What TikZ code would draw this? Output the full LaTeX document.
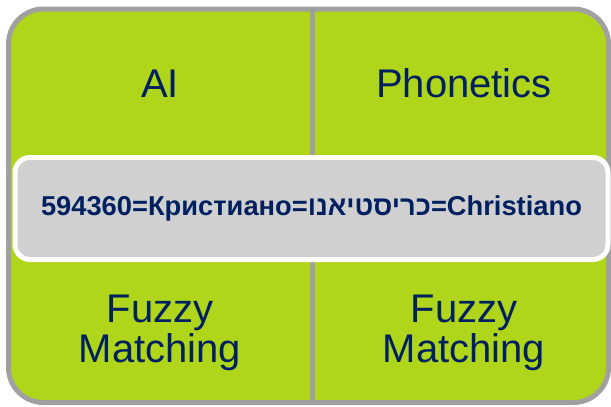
\documentclass[tikz,border=0pt]{standalone}
\usepackage{fontspec}
\setmainfont{Liberation Sans}
\newfontfamily\hebfont[Script=Hebrew]{Liberation Sans}
\TeXXeTstate=1
\definecolor{leaf}{RGB}{175,214,26}
\definecolor{rim}{RGB}{160,160,160}
\definecolor{slab}{RGB}{208,208,208}
\definecolor{ink}{RGB}{0,32,96}
\begin{document}
\begin{tikzpicture}[x=1pt,y=-1pt,
                panel/.style = {fill=leaf, draw=rim, line width=5pt, rounded corners=35pt},
                divider/.style = {draw=rim, line width=5pt},
                quad/.style = {text=ink, font=\fontsize{40}{40}\selectfont, align=center, inner sep=0pt},
                keybox/.style = {fill=slab, draw=white, line width=5pt, rounded corners=15pt,
                                 minimum width=593pt, minimum height=102pt, inner sep=0pt,
                                 text=ink, font=\fontsize{27.3}{30}\selectfont\bfseries}
                ]
                \useasboundingbox (0,0) rectangle (611,407);
                \draw[panel] (8.5,9) rectangle (608.5,402.5);
                \coordinate (top) at (312.5,9);
                \coordinate (bottom) at (312.5,402.5);
                \draw[divider] (top) -- (bottom);
                \node[keybox] (names) at (311.5,208.5) {594360=Кристиано={\hebfont\beginR כריסטיאנו\endR}=Christiano};
                \node[quad, anchor=base] (ai) at (160,97) {AI};
                \node[quad, anchor=base] (phon) at (464,97) {Phonetics};
                \node[quad, anchor=base] (fuzzyl) at (160,362) {Fuzzy\\Matching};
                \node[quad, anchor=base] (fuzzyr) at (464,362) {Fuzzy\\Matching};
            \end{tikzpicture}
\end{document}
